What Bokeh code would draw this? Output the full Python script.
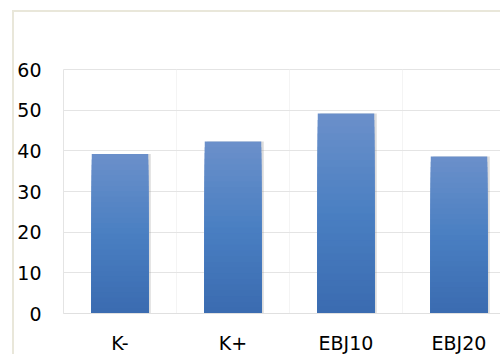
from bokeh.plotting import figure
from bokeh.models import ColumnDataSource, Range1d, FixedTicker
from bokeh.transform import dodge
from bokeh.embed import file_html
from bokeh.resources import INLINE

# ---- data ----
categories = ["K-", "K+", "EBJ10", "EBJ20"]
values = [39.2, 42.3, 49.2, 38.6]
y_ticks = [0, 10, 20, 30, 40, 50, 60]

FONT = "DejaVu Sans"

x_pos = [i + 0.5 for i in range(len(categories))]

# chart area starts at (12,10) with a beige border; content inside from (14,12)
p = figure(width=488, height=344, output_backend="svg", toolbar_location=None,
           x_range=Range1d(0, 439 / 113), y_range=Range1d(0, 60),
           min_border_left=49, min_border_right=0, min_border_top=57,
           min_border_bottom=43)
p.margin = (10, 0, 0, 12)
p.styles = {"border-left": "2px solid #e9e7da", "border-top": "2px solid #e9e7da"}
p.background_fill_color = "white"
p.border_fill_color = "white"
p.outline_line_color = "#e4e4e4"

# shadow
shadow = ColumnDataSource(dict(x=x_pos, top=values))
p.vbar(x=dodge("x", 0.022, range=p.x_range), top="top", bottom=0, width=0.5,
       source=shadow, fill_color="#8a8a8a", fill_alpha=0.3, line_color=None)

# gradient bars: overlapping bands from full height (light) down to short (dark)
N = 30
dark = (0x3a, 0x6b, 0xb0)
mid = (0x4a, 0x7f, 0xc2)
light = (0x6b, 0x90, 0xca)

def interp(t):
    if t < 0.5:
        a, b, u = dark, mid, t / 0.5
    else:
        a, b, u = mid, light, (t - 0.5) / 0.5
    return "#%02x%02x%02x" % tuple(int(round(a[i] + (b[i] - a[i]) * u)) for i in range(3))

xs, tops, cols = [], [], []
for k in range(N - 1, -1, -1):
    for xi, v in zip(x_pos, values):
        xs.append(xi)
        tops.append(v * (k + 1) / N)
        cols.append(interp((k + 0.5) / N))
src = ColumnDataSource(dict(x=xs, top=tops, color=cols))
p.vbar(x="x", bottom=0, top="top", width=0.5, fill_color="color",
       line_color=None, source=src)

# grids
p.ygrid.ticker = FixedTicker(ticks=y_ticks)
p.ygrid.grid_line_color = "#e4e4e4"
p.ygrid.grid_line_width = 1
p.xgrid.ticker = FixedTicker(ticks=[1, 2, 3])
p.xgrid.grid_line_color = "#f4f4f4"

# axes
for ax in (p.xaxis, p.yaxis):
    ax.major_tick_line_color = None
    ax.minor_tick_line_color = None
    ax.major_tick_out = 0
    ax.major_tick_in = 0
    ax.minor_tick_out = 0
    ax.minor_tick_in = 0
    ax.major_label_text_font = FONT
    ax.major_label_text_font_size = "19px"
    ax.major_label_text_color = "#000000"

p.yaxis.ticker = FixedTicker(ticks=y_ticks)
p.yaxis.axis_line_color = None
p.yaxis.major_label_standoff = 22

p.xaxis.ticker = FixedTicker(ticks=x_pos)
p.xaxis.major_label_overrides = {x: c for x, c in zip(x_pos, categories)}
p.xaxis.axis_line_color = "#e0e0e0"
p.xaxis.major_label_standoff = 18

open("out.html", "w").write(file_html(p, INLINE))
